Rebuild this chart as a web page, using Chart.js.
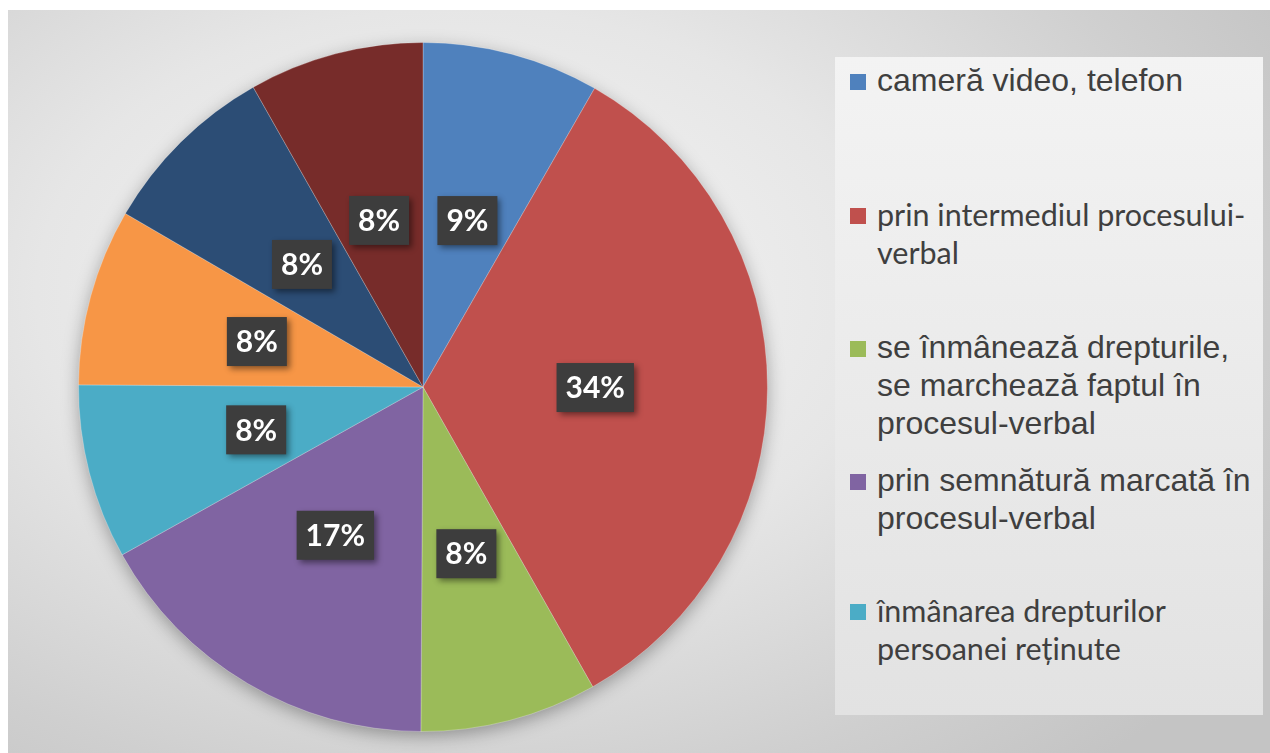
<!DOCTYPE html>
<html>
<head>
<meta charset="utf-8">
<script src="https://cdn.jsdelivr.net/npm/chart.js@4.4.0/dist/chart.umd.min.js"></script>
<style>
  html, body { margin: 0; padding: 0; background: #fff; }
  #frame {
    position: absolute; left: 8px; top: 10px; width: 1262px; height: 743px;
    background: radial-gradient(ellipse 75% 85% at 36% 38%, #f6f6f6 0%, #e6e6e6 45%, #cfcfcf 80%, #c4c4c4 100%);
    overflow: hidden;
  }
  #chartBox { position: absolute; left: 0; top: 0; width: 830px; height: 743px; }
  #legend {
    position: absolute; left: 827px; top: 47px; width: 428px; height: 658px;
    background: linear-gradient(#f3f3f3, #e2e2e2);
  }
  .item { position: absolute; left: 0; width: 420px; color: #3f3f3f; font-size: 32px; line-height: 38px; }
  .item .mark { position: absolute; left: 15px; top: 13px; width: 16px; height: 16px; }
  .item .txt { position: absolute; left: 42px; white-space: nowrap; }
  .arial { font-family: "Liberation Sans", Arial, sans-serif; }
  .calibri { font-family: Lato, "Open Sans", sans-serif; font-size: 30.5px; }
</style>
</head>
<body>
<div id="frame">
  <div id="chartBox"><canvas id="pieChart"></canvas></div>
  <div id="legend"></div>
</div>
<script>
// Categories (only the first five are visible in the legend of the original)
const categories = [
  ["cameră video, telefon"],
  ["prin intermediul procesului-", "verbal"],
  ["se înmânează drepturile,", "se marchează faptul în", "procesul-verbal"],
  ["prin semnătură marcată în", "procesul-verbal"],
  ["înmânarea drepturilor", "persoanei reținute"],
  [""],
  [""],
  [""]
];
// Slice sizes (percent)
const shares = [8.3, 33.5, 8.3, 16.8, 8.2, 8.3, 8.4, 8.2];
// Percent labels as printed on the slices
const percentLabels = ["9%", "34%", "8%", "17%", "8%", "8%", "8%", "8%"];
const sliceColors = ["#4F81BD", "#C0504D", "#9BBB59", "#8064A2", "#4BACC6", "#F79646", "#2C4D75", "#772C2A"];

// legend layout (fonts differ per entry in the original)
const legendFonts = ["arial", "calibri", "arial", "arial", "calibri"];
const legendTops = [4, 138, 271, 404, 534];

// build the legend by hand
const legend = document.getElementById("legend");
for (let i = 0; i < 5; i++) {
  const item = document.createElement("div");
  item.className = "item " + legendFonts[i];
  item.style.top = legendTops[i] + "px";
  item.innerHTML = '<div class="mark" style="background:' + sliceColors[i] + '"></div>' +
    '<div class="txt">' + categories[i].join("<br>") + "</div>";
  legend.appendChild(item);
}

// soft shadow under the whole pie
const pieShadow = {
  id: "pieShadow",
  beforeDatasetsDraw(chart) {
    const arc = chart.getDatasetMeta(0).data[0];
    if (!arc) return;
    const ctx = chart.ctx;
    ctx.save();
    ctx.shadowColor = "rgba(0,0,0,0.35)";
    ctx.shadowBlur = 18;
    ctx.shadowOffsetY = 5;
    ctx.fillStyle = "#999";
    ctx.beginPath();
    ctx.arc(arc.x, arc.y, arc.outerRadius - 1, 0, Math.PI * 2);
    ctx.fill();
    ctx.restore();
  }
};

// dark boxes with the percentages
const boxLabels = {
  id: "boxLabels",
  afterDatasetsDraw(chart) {
    const ctx = chart.ctx;
    const meta = chart.getDatasetMeta(0);
    ctx.save();
    ctx.font = "bold 30px Lato, 'Open Sans', sans-serif";
    ctx.textAlign = "center";
    ctx.textBaseline = "middle";
    meta.data.forEach((arc, i) => {
      const p = arc.getCenterPoint();
      const w = ctx.measureText(percentLabels[i]).width + 18;
      const h = 49;
      ctx.save();
      ctx.shadowColor = "rgba(0,0,0,0.45)";
      ctx.shadowBlur = 6;
      ctx.shadowOffsetX = 3;
      ctx.shadowOffsetY = 3;
      ctx.fillStyle = "#3d3d3d";
      ctx.fillRect(p.x - w / 2, p.y - h / 2, w, h);
      ctx.restore();
      ctx.fillStyle = "#ffffff";
      ctx.fillText(percentLabels[i], p.x, p.y + 1);
    });
    ctx.restore();
  }
};

const ctxPie = document.getElementById("pieChart").getContext("2d");
const myPie = new Chart(ctxPie, {
  type: "pie",
  data: {
    labels: categories.map((c) => c.join(" ")),
    datasets: [
      {
        data: shares,
        backgroundColor: sliceColors,
        borderColor: "rgba(255,255,255,0.25)",
        borderWidth: 1,
      },
    ],
  },
  options: {
    responsive: true,
    maintainAspectRatio: false,
    animation: false,
    layout: { padding: { left: 70, right: 70, top: 32, bottom: 21 } },
    plugins: {
      legend: { display: false },
      tooltip: { enabled: false },
    },
  },
  plugins: [pieShadow, boxLabels],
});
</script>
</body>
</html>
